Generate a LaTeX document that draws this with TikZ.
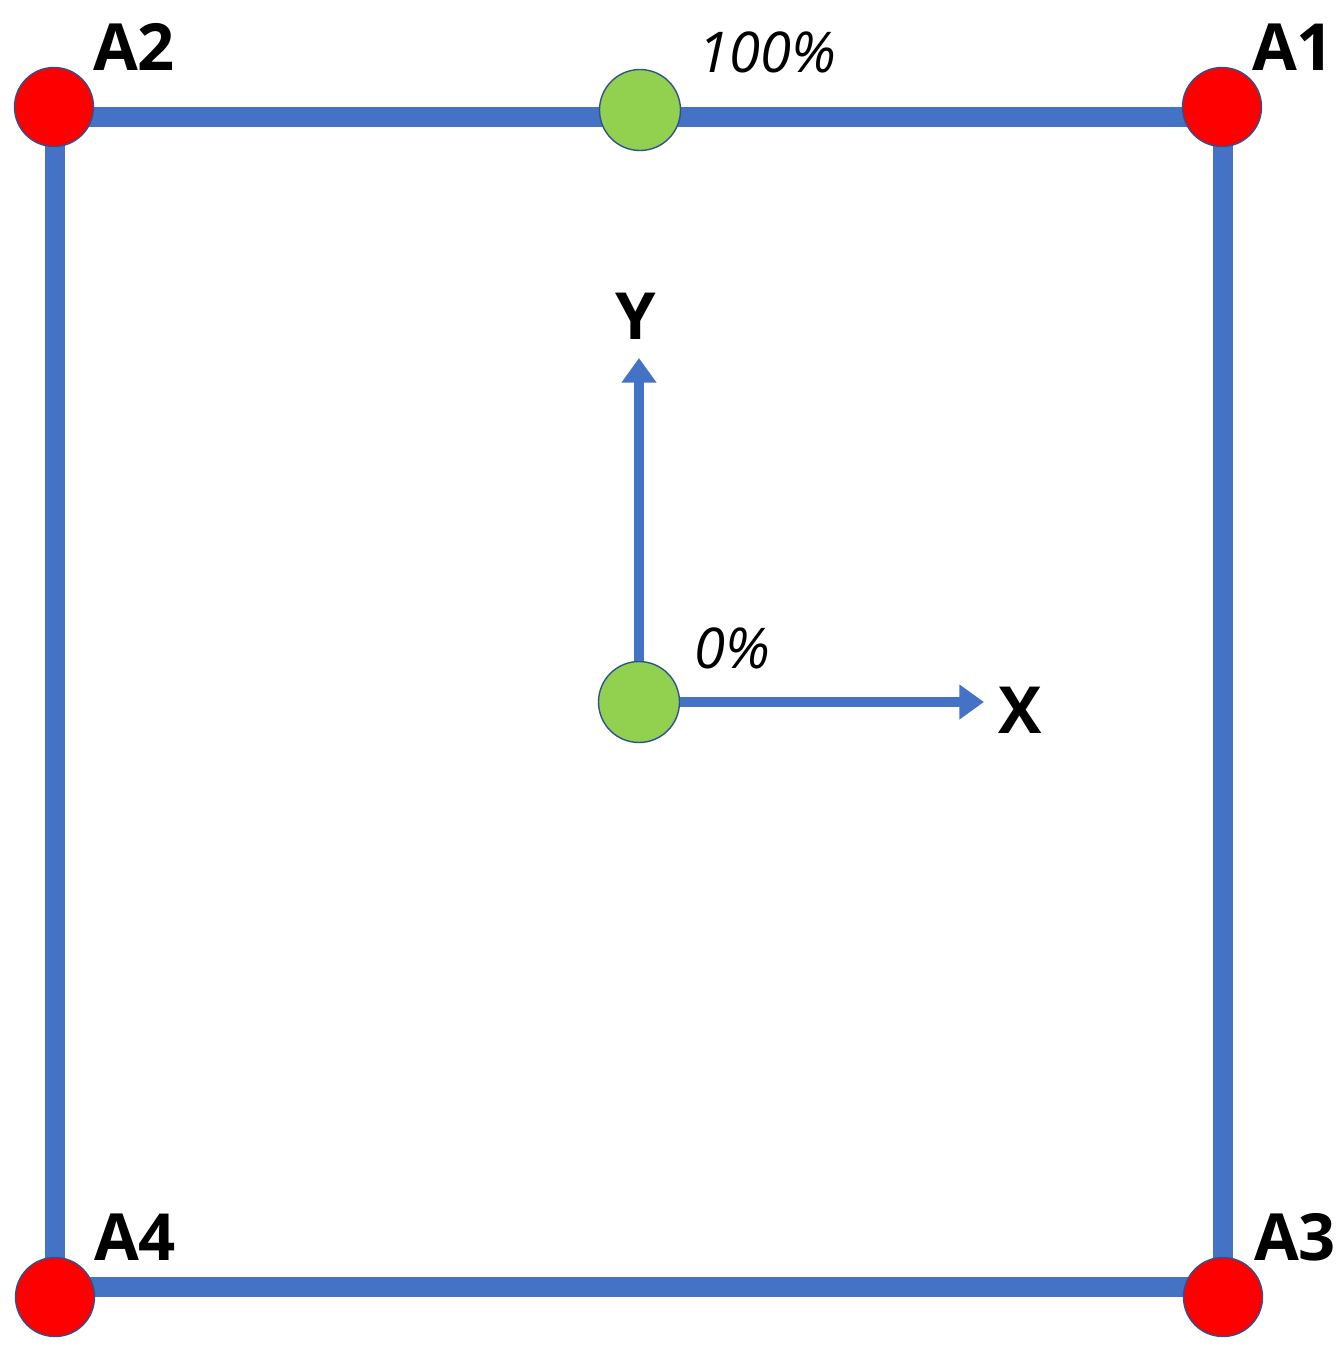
\documentclass[tikz,border=0pt]{standalone}
\usepackage{fontspec}
\setmainfont{Open Sans}
\usetikzlibrary{arrows.meta}
\definecolor{frameblue}{HTML}{4472C4}
\definecolor{edgeblue}{HTML}{2F528F}
\definecolor{ptred}{HTML}{FF0000}
\definecolor{ptgreen}{HTML}{92D050}
\tikzset{
  frameline/.style={frameblue, line width=11pt, line cap=rect},
  corner/.style={circle, fill=ptred, draw=edgeblue, line width=0.8pt, minimum size=79*0.02cm, inner sep=0pt},
  mid/.style={circle, fill=ptgreen, draw=edgeblue, line width=0.8pt, minimum size=81*0.02cm, inner sep=0pt},
  axis/.style={frameblue, line width=5.5pt, -{Triangle[length=14pt,width=19pt]}},
  lbl/.style={font=\bfseries\fontsize{37}{40}\selectfont, inner sep=0pt},
  pct/.style={font=\itshape\fontsize{32}{36}\selectfont, inner sep=0pt}
}
\begin{document}
\begin{tikzpicture}[x=0.02cm,y=-0.02cm]
\useasboundingbox (0,0) rectangle (1344,1363);
% frame corners
\coordinate (tl) at (55,117);
\coordinate (tr) at (1223,117);
\coordinate (br) at (1223,1287);
\coordinate (bl) at (55,1287);
\draw[frameline] (tl) -- (tr) -- (br) -- (bl) -- cycle;
% axis tips
\coordinate (ytip) at (639,358);
\coordinate (xtip) at (984,702);
% points
\node[mid] (top) at (640,110) {};
\node[mid] (origin) at (639,702) {};
\draw[axis] (origin) -- (ytip);
\draw[axis] (origin) -- (xtip);
\node[corner] (a2) at (54,107) {};
\node[corner] (a1) at (1222,107) {};
\node[corner] (a4) at (55,1297) {};
\node[corner] (a3) at (1223,1297) {};
% labels
\node[lbl] (la2) at (134,47) {A2};
\node[lbl] (la1) at (1293,47) {A1};
\node[lbl] (la4) at (135,1237) {A4};
\node[lbl] (la3) at (1295,1237) {A3};
\node[lbl] (ly) at (636,316) {Y};
\node[lbl] (lx) at (1020,710) {X};
\node[pct] (p100) at (767,52) {100\%};
\node[pct] (p0) at (732,648) {0\%};
\end{tikzpicture}
\end{document}
